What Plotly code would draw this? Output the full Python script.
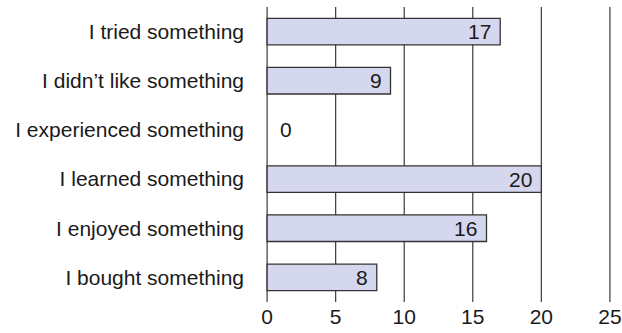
import plotly.graph_objects as go

# Survey responses, top to bottom
categories = [
    "I tried something",
    "I didn\u2019t like something",
    "I experienced something",
    "I learned something",
    "I enjoyed something",
    "I bought something",
]
counts = [17, 9, 0, 20, 16, 8]
tick_values = [0, 5, 10, 15, 20, 25]

FONT = "Liberation Sans, Arial, Helvetica, sans-serif"
TEXT = "#1a1a1a"
FS = 21

fig = go.Figure()
fig.add_trace(go.Bar(
    y=categories,
    x=counts,
    orientation="h",
    marker=dict(color="#d5d7ee",
                line=dict(color="#333333",
                          width=[1.3 if v > 0 else 0 for v in counts])),
    hoverinfo="skip",
))

# Full-height vertical reference lines at every tick, behind the bars
for t in tick_values:
    fig.add_shape(type="line", xref="x", yref="paper", x0=t, x1=t, y0=0, y1=1,
                  line=dict(color="#3a3a3a", width=1.2), layer="below")

# Value labels: inside the bar end, or just right of the axis when zero
for cat, v in zip(categories, counts):
    if v > 0:
        fig.add_annotation(x=v, y=cat, text=str(v), showarrow=False,
                           xanchor="right", xshift=-7,
                           font=dict(family=FONT, size=FS, color=TEXT))
    else:
        fig.add_annotation(x=v, y=cat, text=str(v), showarrow=False,
                           xanchor="left", xshift=11,
                           font=dict(family=FONT, size=FS, color=TEXT))

fig.update_layout(
    width=622, height=333,
    margin=dict(l=266, r=11, t=7, b=31, autoexpand=False),
    paper_bgcolor="white", plot_bgcolor="white",
    showlegend=False,
    bargap=0.46,
    font=dict(family=FONT, size=FS, color=TEXT),
)
fig.update_xaxes(
    range=[-0.08, 25.08], tickvals=tick_values, ticktext=[str(t) for t in tick_values],
    showgrid=False, zeroline=False, showline=False, ticks="", automargin=False,
    tickfont=dict(family=FONT, size=FS, color=TEXT),
)
fig.update_yaxes(
    categoryorder="array", categoryarray=categories[::-1],
    showgrid=False, zeroline=False, showline=False, ticks="",
    automargin=False, ticklabelstandoff=21,
    tickfont=dict(family=FONT, size=FS, color=TEXT),
)

fig.write_html("out.html")
